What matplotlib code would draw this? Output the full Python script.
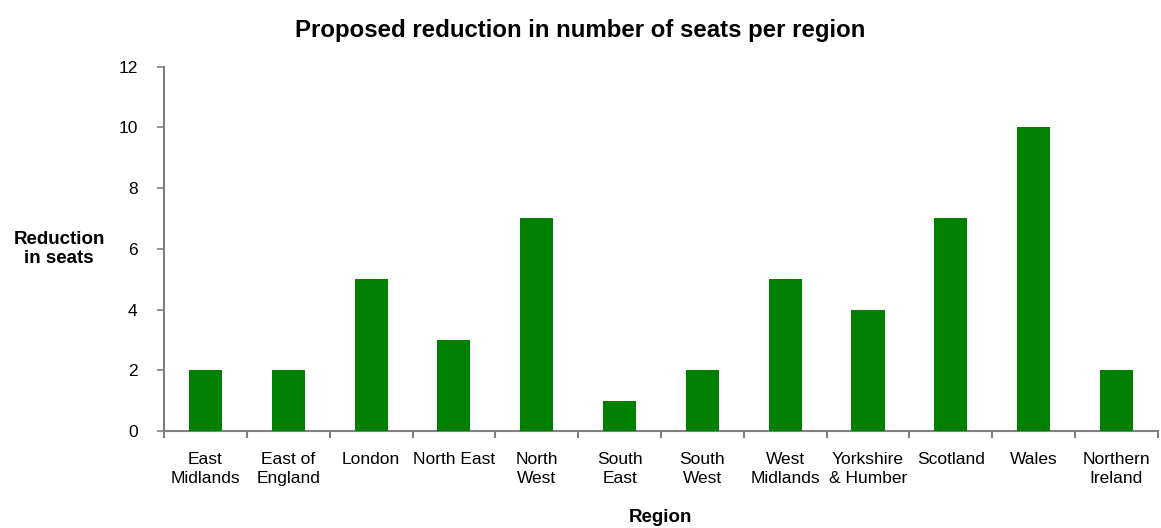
import matplotlib
matplotlib.use("Agg")
import matplotlib.pyplot as plt
import numpy as np

plt.rcParams['font.family'] = ['Liberation Sans', 'DejaVu Sans']

regions = ["East\nMidlands", "East of\nEngland", "London", "North East", "North\nWest",
           "South\nEast", "South\nWest", "West\nMidlands", "Yorkshire\n& Humber",
           "Scotland", "Wales", "Northern\nIreland"]
reductions = [2, 2, 5, 3, 7, 1, 2, 5, 4, 7, 10, 2]
yticks = [0, 2, 4, 6, 8, 10, 12]

fig = plt.figure(figsize=(11.61, 5.28), dpi=100)
ax = fig.add_axes([0.1413, 0.1837, 0.856, 0.690])

x = np.arange(len(regions))
ax.bar(x, reductions, width=0.4, color="#008000", zorder=3)

ax.set_xlim(-0.5, len(regions) - 0.5)
ax.set_ylim(0, 12)
ax.set_yticks(yticks)
ax.set_xticks(x)
ax.set_xticklabels(regions, fontsize=12.5, linespacing=1.35)
ax.set_xticks(np.arange(-0.5, len(regions), 1.0), minor=True)
ax.tick_params(axis='x', which='major', length=0, pad=15)
ax.tick_params(axis='x', which='minor', length=5, width=1.5, color="#808080", direction='out')
ax.tick_params(axis='y', length=5, width=1.2, color="#808080", labelsize=12.5, pad=14)

for s in ['top', 'right']:
    ax.spines[s].set_visible(False)
for s in ['left', 'bottom']:
    ax.spines[s].set_color("#808080")
    ax.spines[s].set_linewidth(1.5)

fig.text(0.5, 0.943, "Proposed reduction in number of seats per region", ha='center', va='center',
         fontsize=17.3, fontweight='bold')
fig.text(0.051, 0.528, "Reduction\nin seats", ha='center', va='center', fontsize=13.5,
         fontweight='bold', linespacing=1.15)
fig.text(0.569, 0.019, "Region", ha='center', va='center', fontsize=13.5, fontweight='bold')

fig.savefig("out.png", dpi=100)
